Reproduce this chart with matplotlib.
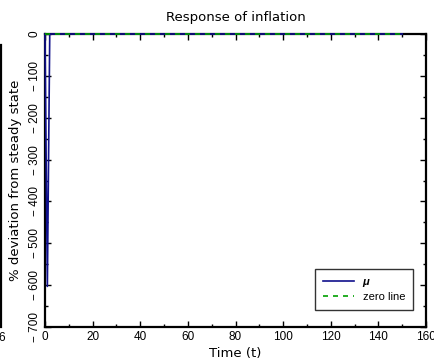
import numpy as np
import matplotlib
matplotlib.use('Agg')
import matplotlib.pyplot as plt
from matplotlib.ticker import MultipleLocator

# data
t = np.arange(0, 151)
mu = np.zeros(len(t))
mu[1] = -603.0
zero_line = np.zeros(len(t))

x_ticks = [0, 20, 40, 60, 80, 100, 120, 140, 160]
y_ticks = [-700, -600, -500, -400, -300, -200, -100, 0]

plt.rcParams['font.family'] = ['Liberation Sans', 'DejaVu Sans']
fig = plt.figure(figsize=(4.35, 3.64), dpi=100)
ax = fig.add_axes([0.1034, 0.1016, 0.876, 0.805])

ax.plot(t, mu, color='#10108c', lw=1.2, label='μ', zorder=3, clip_on=False)
ax.plot(t, zero_line, color='#00a000', lw=1.2, ls=(0, (3, 3)), label='zero line',
        zorder=3.1, clip_on=False)

ax.set_xlim(0, 160)
ax.set_ylim(-700, 0)
ax.set_xticks(x_ticks)
ax.set_yticks(y_ticks)
ax.set_yticklabels([str(v).replace('-', '\u2212 ') for v in y_ticks], rotation=90, va='center')
ax.xaxis.set_minor_locator(MultipleLocator(10))
ax.yaxis.set_minor_locator(MultipleLocator(50))
ax.tick_params(which='both', direction='in', top=True, right=True, labelsize=8.5, pad=3)
ax.tick_params(which='major', length=4, width=1)
ax.tick_params(which='minor', length=2, width=1)
for s in ax.spines.values():
    s.set_linewidth(1.6)

lab = dict(fontsize=9.5, fontfamily='DejaVu Sans')
ax.set_title('Response of inflation', pad=9, **lab)
ax.set_xlabel('Time (t)', labelpad=3, **lab)
ax.set_ylabel('% deviation from steady state', labelpad=5, **lab)

leg = ax.legend(loc='lower right', fontsize=8, frameon=True, fancybox=False,
                edgecolor='black', bbox_to_anchor=(0.98, 0.04), handlelength=2.8,
                borderpad=0.7, labelspacing=0.45)
leg.get_frame().set_linewidth(1.0)
leg.set_zorder(5)
leg.get_texts()[0].set_fontweight('bold')
leg.get_texts()[0].set_fontstyle('italic')

# bits of the neighbouring panel that were cut off
fig.add_artist(plt.Line2D([0.003, 0.003], [1 - 45 / 364, 1 - 327 / 364], color='black', lw=1.6))
fig.text(-0.004, 1 - 338 / 364, '6', fontsize=8.5, va='center')

fig.savefig('out.png', dpi=100)
